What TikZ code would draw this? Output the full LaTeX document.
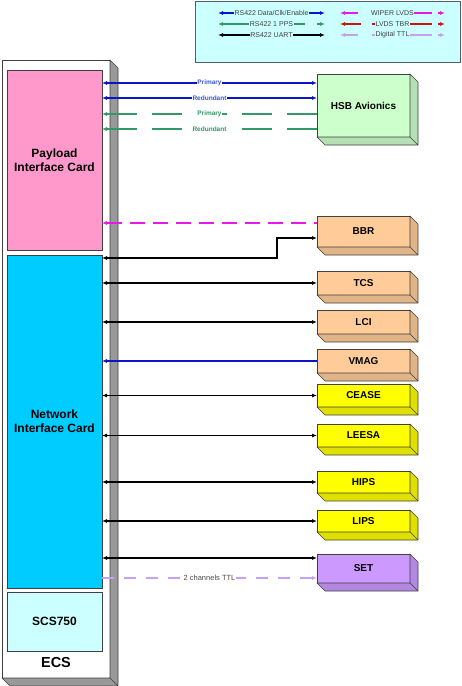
\documentclass[tikz,border=0pt]{standalone}
\usepackage{fontspec}
\setmainfont{Liberation Sans}
\usetikzlibrary{arrows.meta,calc}
\definecolor{pinkc}{HTML}{FF99CC}
\definecolor{cyanc}{HTML}{00CCFF}
\definecolor{ltcyan}{HTML}{CCFFFF}
\definecolor{ltgreen}{HTML}{CCFFCC}
\definecolor{orangec}{HTML}{FFCC99}
\definecolor{yellowc}{HTML}{FFFF00}
\definecolor{purplec}{HTML}{CC99FF}
\definecolor{bluec}{HTML}{0A14C8}
\definecolor{bluetxt}{HTML}{3C5AD2}
\definecolor{greenc}{HTML}{339966}
\definecolor{magc}{HTML}{E619E6}
\definecolor{redc}{HTML}{D01010}
\definecolor{lavc}{HTML}{C8A0F0}
\definecolor{edgec}{HTML}{404040}
\definecolor{grayc}{HTML}{999999}
\definecolor{legedge}{HTML}{50606A}
\newcommand\devbox[7]{%
  \node[dev, fill=#6, minimum width=#4pt, minimum height=#5pt] (#1) at (#2,#3) {#7};
  \filldraw[fill=#6!88!black, draw=edgec, line width=0.6pt, line join=round]
    (#1.north east) -- ([shift={(8,8)}]#1.north east) -- ([shift={(8,8)}]#1.south east)
    -- ([shift={(8,8)}]#1.south west) -- (#1.south west) -- (#1.south east) -- cycle;
  \draw[edgec, line width=0.6pt] (#1.south east) -- ([shift={(8,8)}]#1.south east);
}
\begin{document}
\begin{tikzpicture}[x=1pt,y=-1pt,
  >={Latex[length=5pt,width=4pt]},
  card/.style={draw=edgec, line width=0.6pt, inner sep=0pt, outer sep=0pt, align=center,
    font=\fontsize{12}{14}\selectfont\bfseries},
  dev/.style={draw=edgec, line width=0.6pt, inner sep=0pt, outer sep=0pt,
    font=\fontsize{10}{12}\selectfont\bfseries},
  blueln/.style={draw=bluec, line width=1.2pt},
  blackln/.style={draw=black, line width=1.5pt},
  greenln/.style={draw=greenc, line width=1.8pt, dash pattern=on 30pt off 15pt},
  magln/.style={draw=magc, line width=1.5pt, dash pattern=on 15pt off 8pt},
  lavln/.style={draw=lavc, line width=1.5pt, dash pattern=on 12pt off 10pt},
  lbl/.style={fill=white, inner sep=0.8pt, font=\fontsize{6.5}{7}\selectfont\bfseries},
  leg/.style={fill=ltcyan, inner sep=0.6pt, font=\fontsize{7}{8}\selectfont, text=black!75},
  legln/.style={line width=1.3pt}
]
\useasboundingbox (0,0) rectangle (462,686);

% legend
\node[draw=legedge, line width=0.9pt, fill=ltcyan, minimum width=265pt, minimum height=61pt,
  inner sep=0pt, outer sep=0pt] (legend) at (327.5,31.5) {};
\coordinate (l1a) at (218,13); \coordinate (l1b) at (325,13);
\coordinate (l2a) at (218,24); \coordinate (l2b) at (325,24);
\coordinate (l3a) at (218,35); \coordinate (l3b) at (325,35);
\coordinate (r1a) at (340,13); \coordinate (r1b) at (445,13);
\coordinate (r2a) at (340,24); \coordinate (r2b) at (445,24);
\coordinate (r3a) at (340,35); \coordinate (r3b) at (445,35);
\draw[legln, bluec, <->] (l1a) -- (l1b) node[midway, leg] (t1) {RS422 Data/Clk/Enable};
\draw[legln, greenc, <->, dash pattern=on 82pt off 12pt] (l2a) -- (l2b) node[midway, leg] (t2) {RS422 1 PPS};
\draw[legln, black, <->] (l3a) -- (l3b) node[midway, leg] (t3) {RS422 UART};
\draw[legln, magc, <->, dash pattern=on 13pt off 14pt on 60pt off 6pt] (r1a) -- (r1b) node[midway, leg] (t4) {WIPER LVDS};
\draw[legln, redc, <->, dash pattern=on 16pt off 11pt on 60pt off 6pt] (r2a) -- (r2b) node[midway, leg] (t5) {LVDS TBR};
\draw[legln, lavc, <->, dash pattern=on 13pt off 14pt on 60pt off 6pt] (r3a) -- (r3b) node[midway, leg] (t6) {Digital TTL};

% ECS chassis
\node[draw=edgec, line width=0.6pt, fill=white, minimum width=108pt, minimum height=618pt,
  inner sep=0pt, outer sep=0pt] (ecs) at (56,369) {};
\filldraw[fill=grayc, draw=edgec, line width=0.6pt, line join=round]
  (ecs.north east) -- ([shift={(8,8)}]ecs.north east) -- ([shift={(8,8)}]ecs.south east)
  -- ([shift={(8,8)}]ecs.south west) -- (ecs.south west) -- (ecs.south east) -- cycle;
\draw[edgec, line width=0.6pt] (ecs.south east) -- ([shift={(8,8)}]ecs.south east);

\node[card, fill=pinkc, minimum width=95pt, minimum height=180pt] (payload) at (54.5,160) {Payload\\Interface Card};
\node[card, fill=cyanc, minimum width=95pt, minimum height=333pt] (nic) at (54.5,421.5) {Network\\Interface Card};
\node[card, fill=ltcyan, minimum width=95pt, minimum height=59pt] (scs) at (54.5,621.5) {SCS750};
\node[font=\fontsize{14.5}{16}\selectfont\bfseries, inner sep=0pt] (ecslabel) at (56,663) {ECS};

% devices
\devbox{hsb}{363.5}{105.5}{93}{63}{ltgreen}{HSB Avionics}
\devbox{bbr}{363.5}{231.5}{93}{31}{orangec}{BBR}
\devbox{tcs}{363.5}{283}{93}{24}{orangec}{TCS}
\devbox{lci}{363.5}{322}{93}{24}{orangec}{LCI}
\devbox{vmag}{363.5}{361}{93}{24}{orangec}{VMAG}
\devbox{cease}{363.5}{395.5}{93}{23}{yellowc}{CEASE}
\devbox{leesa}{363.5}{435.5}{93}{23}{yellowc}{LEESA}
\devbox{hips}{363.5}{482}{93}{22}{yellowc}{HIPS}
\devbox{lips}{363.5}{521}{93}{22}{yellowc}{LIPS}
\devbox{set}{363.5}{568.5}{93}{29}{purplec}{SET}

% connectors
\draw[blueln, <->] (payload.east |- 0,83) -- (hsb.west |- 0,83) node[midway, lbl, text=bluetxt] {Primary};
\draw[blueln, <->] (payload.east |- 0,98) -- (hsb.west |- 0,98) node[midway, lbl, text=bluetxt] {Redundant};
\draw[greenln, <-] (payload.east |- 0,114) -- (hsb.west |- 0,114) node[midway, lbl, text=greenc] {Primary};
\draw[greenln, <-] (payload.east |- 0,129) -- (hsb.west |- 0,129) node[midway, lbl, text=greenc] {Redundant};
\draw[magln, <-] (payload.east |- 0,223) -- (bbr.west |- 0,223);
\coordinate (bend1) at (277,258);
\coordinate (bend2) at (277,238);
\draw[blackln, <->] (nic.east |- bend1) -- (bend1) -- (bend2) -- (bbr.west |- bend2);
\draw[blackln, <->] (nic.east |- tcs.west) -- (tcs.west);
\draw[blackln, <->] (nic.east |- lci.west) -- (lci.west);
\draw[blueln, <-] (nic.east |- vmag.west) -- (vmag.west);
\draw[blackln, <->] (nic.east |- cease.west) -- (cease.west);
\draw[blackln, <->] (nic.east |- leesa.west) -- (leesa.west);
\draw[blackln, <->] (nic.east |- hips.west) -- (hips.west);
\draw[blackln, <->] (nic.east |- lips.west) -- (lips.west);
\draw[blackln, <->] (nic.east |- 0,558) -- (set.west |- 0,558);
\draw[lavln, ->] (nic.east |- 0,578) -- (set.west |- 0,578)
  node[midway, fill=white, inner sep=1pt, font=\fontsize{7.5}{8}\selectfont, text=black!70] {2 channels TTL};
\end{tikzpicture}
\end{document}
